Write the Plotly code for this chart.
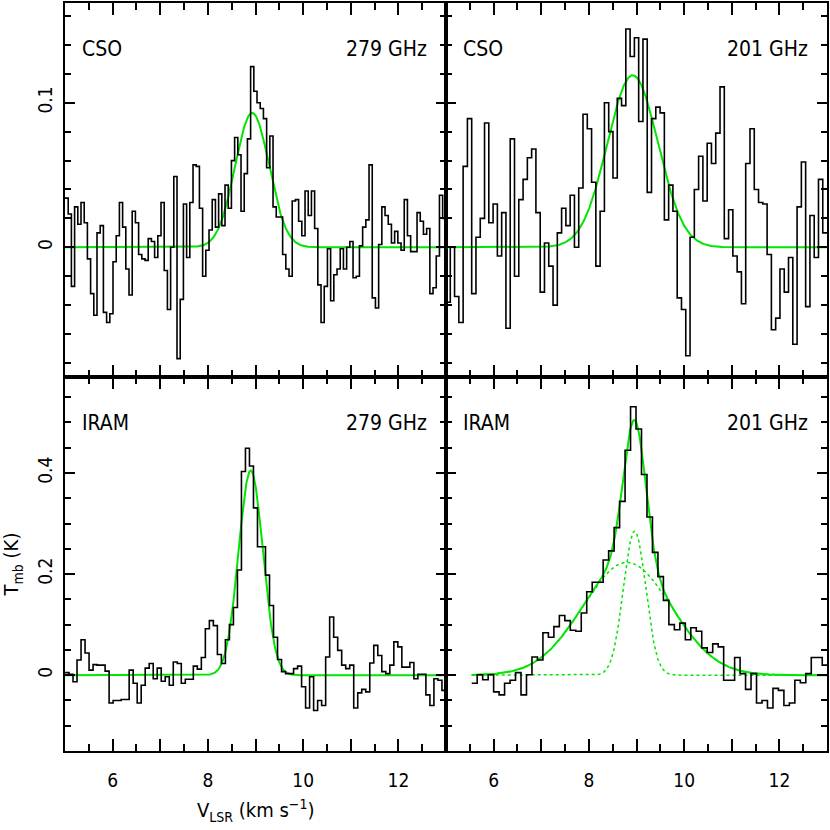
import numpy as np
import plotly.graph_objects as go

# ---------------- data ----------------
# CSO 279 GHz (top-left): Tmb (K) per channel, channels from 5.0 km/s
cso279_v0 = 5.0
cso279_dv = 0.0672
cso279 = [0.034, 0.023, -0.027, 0.028, 0.016, 0.031, 0.017, -0.008, -0.032, -0.047,
          0.010, 0.015, -0.045, -0.052, -0.046, -0.010, 0.008, 0.031, 0.014, -0.015,
          -0.033, 0.025, 0.017, -0.005, -0.008, -0.009, 0.006, 0.004, -0.007, 0.008,
          0.031, -0.016, -0.043, 0.000, 0.049, -0.077, -0.036, 0.030, -0.007, 0.031,
          0.057, 0.056, 0.027, -0.020, -0.002, 0.012, 0.033, 0.014, 0.037, 0.015,
          0.043, 0.027, 0.060, 0.076, 0.064, 0.025, 0.051, 0.075, 0.125, 0.108,
          0.100, 0.096, 0.089, 0.055, 0.077, 0.028, 0.021, 0.021, -0.005, -0.015,
          -0.020, 0.032, 0.033, 0.018, 0.008, 0.039, 0.022, 0.039, 0.013, -0.026,
          -0.052, -0.027, -0.001, -0.037, -0.019, -0.015, -0.001, -0.015, 0.000, 0.004,
          -0.021, -0.020, 0.001, 0.014, 0.019, 0.057, -0.035, -0.042, 0.002, 0.028,
          0.022, 0.016, 0.003, 0.011, 0.003, -0.002, 0.033, 0.008, -0.003, -0.003,
          0.024, 0.018, 0.009, 0.013, -0.032, -0.028, -0.006, 0.036, 0.020]

# CSO 201 GHz (top-right)
cso201_v0 = 5.0
cso201_dv = 0.0899
cso201 = [-0.038, 0.000, -0.034, -0.052, 0.056, 0.089, -0.032, 0.007, 0.020, 0.086,
          0.017, 0.030, -0.006, 0.024, -0.056, 0.075, -0.020, 0.033, 0.047, 0.062,
          0.068, 0.024, -0.031, 0.003, -0.013, -0.040, 0.010, 0.027, 0.015, 0.036,
          0.000, 0.041, 0.092, 0.082, 0.045, -0.013, 0.025, 0.100, 0.080, 0.048,
          0.103, 0.098, 0.151, 0.132, 0.145, 0.087, 0.144, 0.038, 0.089, 0.097,
          0.093, 0.019, 0.043, 0.025, -0.035, -0.043, -0.075, 0.007, 0.040, 0.063,
          0.032, 0.072, 0.058, 0.079, 0.111, 0.006, 0.026, -0.006, -0.017, -0.039,
          0.058, 0.082, 0.040, 0.031, 0.030, -0.005, -0.057, -0.049, -0.015, -0.031,
          -0.007, -0.067, 0.028, 0.059, -0.041, 0.022, -0.007, 0.047, 0.010]

# IRAM 279 GHz (bottom-left)
iram279_v0 = 5.0
iram279_dv = 0.0842
iram279 = [0.005, 0.002, -0.013, 0.030, 0.070, 0.044, 0.010, 0.021, 0.020, 0.020,
           0.008, -0.055, -0.050, -0.050, -0.048, -0.048, 0.010, -0.016, -0.055, -0.020,
           0.014, 0.023, -0.007, 0.014, -0.012, -0.003, -0.020, 0.026, 0.023, -0.016,
           -0.008, -0.008, 0.018, 0.012, 0.035, 0.092, 0.108, 0.098, 0.041, 0.023,
           0.070, 0.100, 0.134, 0.208, 0.403, 0.449, 0.414, 0.331, 0.254, 0.254,
           0.198, 0.138, 0.075, 0.031, 0.007, 0.003, 0.003, 0.013, 0.018, -0.023,
           -0.065, -0.003, -0.070, -0.050, -0.060, 0.036, 0.115, 0.075, 0.049, 0.020,
           0.013, 0.020, -0.065, -0.035, -0.028, -0.033, 0.024, 0.059, 0.039, 0.007,
           0.003, 0.020, 0.066, 0.056, 0.016, 0.016, 0.025, -0.007, 0.002, 0.002,
           -0.039, -0.060, -0.007, -0.010, -0.030]

# IRAM 201 GHz (bottom-right)
iram201_v0 = 5.54
iram201_dv = 0.115
iram201 = [-0.016, 0.001, -0.009, 0.001, -0.033, -0.039, -0.016, -0.010, 0.005, -0.039,
           0.001, 0.036, 0.030, 0.084, 0.075, 0.096, 0.118, 0.108, 0.089, 0.087,
           0.123, 0.165, 0.184, 0.184, 0.228, 0.246, 0.292, 0.344, 0.445, 0.531,
           0.487, 0.397, 0.313, 0.243, 0.195, 0.148, 0.100, 0.090, 0.103, 0.070,
           0.094, 0.087, 0.054, 0.045, 0.062, 0.056, -0.010, -0.010, 0.035, 0.003,
           -0.028, 0.003, -0.055, -0.050, -0.065, -0.026, -0.030, -0.060, -0.055, -0.010,
           -0.015, 0.003, 0.035, 0.035, 0.020]

# Gaussian fit parameters: (amplitude K, centre km/s, FWHM km/s)
fit_cso279 = [(0.093, 8.93, 0.84)]
fit_cso201 = [(0.119, 8.92, 1.25)]
fit_iram279 = [(0.405, 8.90, 0.60)]
fit_iram201 = [(0.285, 8.96, 0.55), (0.223, 8.80, 2.20)]

telescopes = ["CSO", "CSO", "IRAM", "IRAM"]
frequencies = ["279 GHz", "201 GHz", "279 GHz", "201 GHz"]

top_y_tick_vals = [0, 0.1]
top_y_tick_text = ["0", "0.1"]
bot_y_tick_vals = [0, 0.2, 0.4]
bot_y_tick_text = ["0", "0.2", "0.4"]

# ---------------- figure ----------------
FONT = "Liberation Sans Narrow, DejaVu Sans Condensed, Liberation Sans, Arial, sans-serif"
GREEN = "rgb(0,230,0)"

fig = go.Figure()

panels = [
    (cso279_v0, cso279_dv, cso279, fit_cso279, "x", "y", False),
    (cso201_v0, cso201_dv, cso201, fit_cso201, "x2", "y2", False),
    (iram279_v0, iram279_dv, iram279, fit_iram279, "x3", "y3", False),
    (iram201_v0, iram201_dv, iram201, fit_iram201, "x4", "y4", True),
]


def gauss(v, a, c, fwhm):
    s = fwhm / (2.0 * np.sqrt(2.0 * np.log(2.0)))
    return a * np.exp(-0.5 * ((v - c) / s) ** 2)


for v0, dv, vals, fits, xa, ya, limited in panels:
    n = len(vals)
    edges = v0 + dv * np.arange(n + 1)
    yy = list(vals) + [vals[-1]]
    lo = v0 if limited else 5.0
    vfit = np.linspace(lo, 13.0, 800)
    total = np.zeros_like(vfit)
    for a, c, w in fits:
        total += gauss(vfit, a, c, w)
    if len(fits) > 1:
        for a, c, w in fits:
            fig.add_trace(go.Scatter(x=vfit, y=gauss(vfit, a, c, w), mode="lines",
                                     line=dict(color=GREEN, width=1.5, dash="dot"),
                                     xaxis=xa, yaxis=ya, showlegend=False, hoverinfo="skip"))
    fig.add_trace(go.Scatter(x=vfit, y=total, mode="lines",
                             line=dict(color=GREEN, width=2),
                             xaxis=xa, yaxis=ya, showlegend=False, hoverinfo="skip"))
    fig.add_trace(go.Scatter(x=edges, y=yy, mode="lines", line_shape="hv",
                             line=dict(color="black", width=1.6),
                             xaxis=xa, yaxis=ya, showlegend=False))

common_x = dict(range=[5, 13], tickmode="linear", tick0=6, dtick=1, ticklabelstep=2,
                ticks="inside", ticklen=12, tickwidth=1.5, tickcolor="black",
                minor=dict(dtick=0.5, tick0=5, ticks="inside", ticklen=7, tickwidth=1.5, tickcolor="black"),
                showline=True, linewidth=2, linecolor="black", mirror="ticks",
                showgrid=False, zeroline=False,
                tickfont=dict(family=FONT, size=19, color="black"), ticklabelstandoff=11)

top_y = dict(range=[-0.0897, 0.169], tickmode="array", tickvals=top_y_tick_vals, ticktext=top_y_tick_text,
             ticks="inside", ticklen=10, tickwidth=1.5, tickcolor="black",
             minor=dict(dtick=0.02, tick0=0, ticks="inside", ticklen=6, tickwidth=1.5, tickcolor="black"),
             showline=True, linewidth=2, linecolor="black", mirror="ticks",
             showgrid=False, zeroline=False, tickangle=-90,
             tickfont=dict(family=FONT, size=19, color="black"), ticklabelstandoff=3)

bot_y = dict(range=[-0.15, 0.59], tickmode="array", tickvals=bot_y_tick_vals, ticktext=bot_y_tick_text,
             ticks="inside", ticklen=10, tickwidth=1.5, tickcolor="black",
             minor=dict(dtick=0.05, tick0=0, ticks="inside", ticklen=6, tickwidth=1.5, tickcolor="black"),
             showline=True, linewidth=2, linecolor="black", mirror="ticks",
             showgrid=False, zeroline=False, tickangle=-90,
             tickfont=dict(family=FONT, size=19, color="black"), ticklabelstandoff=3)

fig.update_layout(
    width=830, height=830,
    margin=dict(l=65, r=1, t=1, b=79),
    paper_bgcolor="white", plot_bgcolor="white",
    showlegend=False,
    xaxis=dict(common_x, domain=[0, 0.5], anchor="y", showticklabels=False),
    xaxis2=dict(common_x, domain=[0.5, 1], anchor="y2", showticklabels=False),
    xaxis3=dict(common_x, domain=[0, 0.5], anchor="y3", showticklabels=True),
    xaxis4=dict(common_x, domain=[0.5, 1], anchor="y4", showticklabels=True),
    yaxis=dict(top_y, domain=[0.5, 1], anchor="x", showticklabels=True),
    yaxis2=dict(top_y, domain=[0.5, 1], anchor="x2", showticklabels=False),
    yaxis3=dict(bot_y, domain=[0, 0.5], anchor="x3", showticklabels=True),
    yaxis4=dict(bot_y, domain=[0, 0.5], anchor="x4", showticklabels=False),
)

axis_ids = [("x", "y"), ("x2", "y2"), ("x3", "y3"), ("x4", "y4")]
for (xa, ya), tel, freq in zip(axis_ids, telescopes, frequencies):
    fig.add_annotation(text=tel, xref=f"{xa} domain", yref=f"{ya} domain", x=0.04, y=0.877,
                       xanchor="left", yanchor="middle", showarrow=False,
                       font=dict(family=FONT, size=21, color="black"))
    fig.add_annotation(text=freq, xref=f"{xa} domain", yref=f"{ya} domain", x=0.955, y=0.877,
                       xanchor="right", yanchor="middle", showarrow=False,
                       font=dict(family=FONT, size=21, color="black"))

fig.add_annotation(text="V<sub>LSR</sub> (km s<sup>\u22121</sup>)", xref="paper", yref="paper",
                   x=0.25, y=-0.079, xanchor="center", yanchor="middle", showarrow=False,
                   font=dict(family=FONT, size=20, color="black"))
fig.add_annotation(text="T<sub>mb</sub> (K)", xref="paper", yref="paper",
                   x=-0.069, y=0.25, xanchor="center", yanchor="middle", showarrow=False,
                   textangle=-90, font=dict(family=FONT, size=20, color="black"))

fig.write_html("out.html", config={"displayModeBar": False},
               post_script="document.body.style.margin='0';document.body.style.overflow='hidden';")
